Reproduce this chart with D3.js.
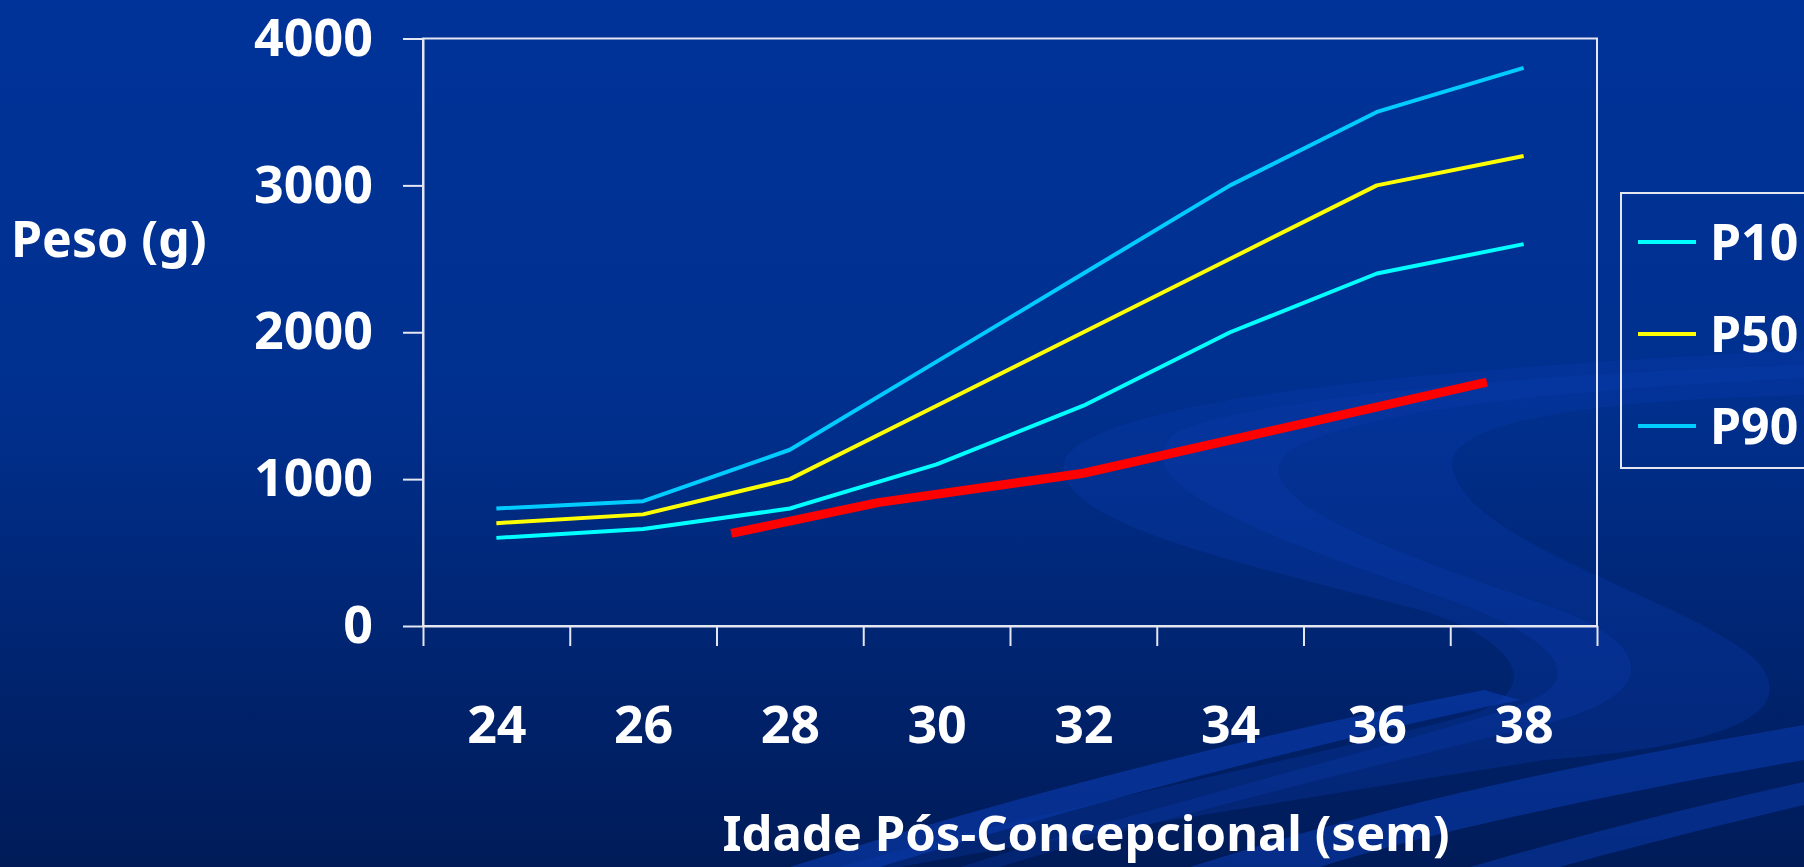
<!DOCTYPE html>
<html>
<head>
<meta charset="utf-8">
<script src="https://cdn.jsdelivr.net/npm/d3@7"></script>
<style>
  html, body { margin: 0; padding: 0; overflow: hidden; background: #003399; }
  svg { display: block; font-family: "Noto Sans", sans-serif; font-weight: bold; }
</style>
</head>
<body>
<svg id="chart"></svg>
<script>
// weeks (idade pós-concepcional) and percentile curves, grams
const weeks = [24, 26, 28, 30, 32, 34, 36, 38];
const p10 = [600, 660, 800, 1100, 1500, 2000, 2400, 2600];
const p50 = [700, 760, 1000, 1500, 2000, 2500, 3000, 3200];
const p90 = [800, 850, 1200, 1800, 2400, 3000, 3500, 3800];

// patient curve (red), not on the week grid
const patientWeeks = [27.2, 29.2, 32, 37.5];
const patientWeight = [630, 840, 1040, 1660];

const yTicks = [0, 1000, 2000, 3000, 4000];
const seriesNames = ['P10', 'P50', 'P90'];
const seriesColors = ['#00ffff', '#ffff00', '#00ccff'];

const W = 1804, H = 867;
const margin = {top: 38.5, right: 207, bottom: 241, left: 423};

const svg = d3.select('#chart').attr('width', W).attr('height', H);

// background gradient
const defs = svg.append('defs');
const grad = defs.append('linearGradient')
    .attr('id', 'bg').attr('x1', 0).attr('y1', 0).attr('x2', 0).attr('y2', 1);
grad.append('stop').attr('offset', '0%').attr('stop-color', '#003399');
grad.append('stop').attr('offset', '45%').attr('stop-color', '#00308f');
grad.append('stop').attr('offset', '100%').attr('stop-color', '#001b58');
svg.append('rect').attr('width', W).attr('height', H).attr('fill', 'url(#bg)');

// decorative swooshes of the slide template
const deco = svg.append('g').attr('fill', '#0a3cb0');
deco.append('path')
    .attr('opacity', 0.3)
    .attr('d', 'M1066,456 C1110,400 1400,370 1804,350 L1804,395 C1600,400 1440,420 1453,470 ' +
               'C1470,545 1690,600 1756,660 C1800,710 1740,745 1545,760 C1350,790 1050,840 900,867 L840,867 ' +
               'C1000,820 1300,760 1470,715 C1545,690 1520,640 1420,610 C1230,560 1040,520 1066,456 Z');
deco.append('path')
    .attr('opacity', 0.3)
    .attr('d', 'M1180,430 C1280,395 1520,375 1804,365 L1804,378 C1560,390 1360,410 1290,450 ' +
               'C1230,500 1420,560 1560,610 C1650,645 1660,690 1560,720 C1420,755 1150,820 1000,867 L960,867 ' +
               'C1120,815 1400,745 1520,705 C1590,680 1560,640 1450,600 C1260,535 1110,480 1180,430 Z');
deco.append('path').attr('opacity', 0.6)
    .attr('d', 'M790,867 C1000,800 1250,735 1484,690 L1520,700 C1300,745 1050,815 880,867 Z');
deco.append('path').attr('opacity', 0.55)
    .attr('d', 'M1190,867 C1400,800 1600,760 1804,725 L1804,760 C1600,795 1420,835 1320,867 Z');
deco.append('path').attr('opacity', 0.5)
    .attr('d', 'M1470,867 C1580,835 1700,805 1804,782 L1804,805 C1720,825 1620,850 1560,867 Z');

const x = d3.scaleLinear()
    .domain([23, 39])
    .range([margin.left, W - margin.right]);
const y = d3.scaleLinear()
    .domain([0, 4000])
    .range([H - margin.bottom, margin.top]);

const axisColor = '#e4e6f2';

// plot frame
svg.append('rect')
    .attr('x', x(23)).attr('y', y(4000))
    .attr('width', x(39) - x(23)).attr('height', y(0) - y(4000))
    .attr('fill', 'none').attr('stroke', axisColor).attr('stroke-width', 2);

// y axis
const yAxis = svg.append('g')
    .attr('transform', `translate(${x(23)},0)`)
    .call(d3.axisLeft(y).tickValues(yTicks).tickFormat(d3.format('d'))
        .tickSize(20).tickSizeOuter(0).tickPadding(30));
yAxis.selectAll('text').attr('fill', 'white').style('font-size', '52px')
    .style('font-family', '"Noto Sans", sans-serif').style('font-weight', 'bold');

// x axis (ticks between categories)
const xAxis = svg.append('g')
    .attr('transform', `translate(0,${y(0)})`)
    .call(d3.axisBottom(x).tickValues(d3.range(23, 40, 2)).tickSize(20).tickSizeOuter(0).tickFormat(''));

// x labels under the categories
const xLabels = svg.append('g')
    .attr('transform', `translate(0,${y(0)})`)
    .call(d3.axisBottom(x).tickValues(weeks).tickSize(0).tickPadding(80));
xLabels.select('.domain').remove();
xLabels.selectAll('text').attr('fill', 'white').style('font-size', '52px')
    .style('font-family', '"Noto Sans", sans-serif').style('font-weight', 'bold');

svg.selectAll('.domain, .tick line').attr('stroke', axisColor).attr('stroke-width', 2);

// percentile lines
const line = d3.line()
    .x(d => x(d[0]))
    .y(d => y(d[1]));

const series = [p10, p50, p90];
series.forEach((vals, i) => {
    svg.append('path')
        .datum(weeks.map((w, j) => [w, vals[j]]))
        .attr('d', line)
        .attr('fill', 'none')
        .attr('stroke', seriesColors[i])
        .attr('stroke-width', 4)
        .attr('stroke-linejoin', 'round');
});

// patient
svg.append('path')
    .datum(patientWeeks.map((w, j) => [w, patientWeight[j]]))
    .attr('d', line)
    .attr('fill', 'none')
    .attr('stroke', '#ff0000')
    .attr('stroke-width', 9)
    .attr('stroke-linejoin', 'round');

// axis titles
svg.append('text')
    .attr('x', 11).attr('y', 257)
    .attr('fill', 'white')
    .style('font-size', '50px')
    .text('Peso (g)');

svg.append('text')
    .attr('x', 1086).attr('y', 851)
    .attr('text-anchor', 'middle')
    .attr('fill', 'white')
    .style('font-size', '49px')
    .text('Idade Pós-Concepcional (sem)');

// legend
const legend = svg.append('g').attr('transform', 'translate(1621,193)');
legend.append('rect')
    .attr('width', 300).attr('height', 275)
    .attr('fill', 'none').attr('stroke', axisColor).attr('stroke-width', 2);

const item = legend.selectAll('.item')
    .data(seriesNames)
    .enter()
    .append('g')
    .attr('class', 'item')
    .attr('transform', (d, i) => `translate(0,${49 + i * 92})`);

item.append('line')
    .attr('x1', 17).attr('x2', 75)
    .attr('stroke', (d, i) => seriesColors[i])
    .attr('stroke-width', 4);

item.append('text')
    .attr('x', 89).attr('dy', '0.36em')
    .attr('fill', 'white')
    .style('font-size', '50px')
    .text(d => d);
</script>
</body>
</html>
